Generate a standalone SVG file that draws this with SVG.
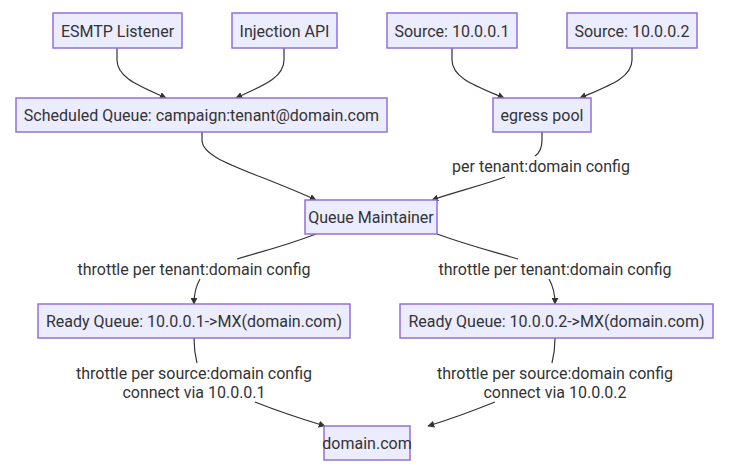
<svg xmlns="http://www.w3.org/2000/svg" width="734" height="471" viewBox="0 0 734 471">
<defs>
<style>
.node rect{fill:#ECECFF;stroke:#9370DB;stroke-width:1.5}
.node text,.lbl text{font-family:Roboto,"Liberation Sans",sans-serif;font-size:16px;fill:#333;text-anchor:middle;dominant-baseline:central}
.edges path{fill:none;stroke:#333;stroke-width:1.2;marker-end:url(#arr)}
</style>
<marker id="arr" viewBox="0 0 10 10" refX="9" refY="5" markerWidth="7" markerHeight="7" orient="auto-start-reverse" markerUnits="userSpaceOnUse">
<path d="M0,0 L10,5 L0,10 z" fill="#333"/>
</marker>
</defs>
<rect width="734" height="471" fill="#fff"/>
<g class="edges">
<path d="M117,48 L117,60 C117,78 140,86 166,98"/>
<path d="M284,48 L284,60 C284,78 262,86 236,98"/>
<path d="M452,48 L452,60 C452,78 476,86 504,98"/>
<path d="M632,48 L632,60 C632,78 608,86 580,98"/>
<path d="M202,132 L202,140 C202,160 250,170 316,200"/>
<path d="M542,132 L542,140 C542,150 538,154 535,156" style="marker-end:none"/>
<path d="M505,177 C480,186 455,192 432,200"/>
<path d="M316,234 C285,246 260,252 237,259" style="marker-end:none"/>
<path d="M200,279 C196,286 194,294 194,304"/>
<path d="M437,234 C470,246 495,252 518,259" style="marker-end:none"/>
<path d="M549,279 C553,286 555,294 555,304"/>
<path d="M194,338 C194,348 195,355 197,363" style="marker-end:none"/>
<path d="M255,402 C280,412 305,420 325,426"/>
<path d="M555,338 C555,348 554,355 552,363" style="marker-end:none"/>
<path d="M495,402 C470,412 448,420 428,426"/>
</g>
<g id="esmtp" class="node"><rect x="53" y="13" width="129" height="35"/><text x="117.5" y="31">ESMTP Listener</text></g>
<g id="inject" class="node"><rect x="232" y="13" width="105" height="35"/><text x="284.5" y="31">Injection API</text></g>
<g id="src1" class="node"><rect x="387" y="13" width="130" height="35"/><text x="452" y="31">Source: 10.0.0.1</text></g>
<g id="src2" class="node"><rect x="567" y="13" width="130" height="35"/><text x="632" y="31">Source: 10.0.0.2</text></g>
<g id="sched" class="node"><rect x="16" y="98" width="371" height="34"/><text x="201.5" y="115.5">Scheduled Queue: campaign:tenant@domain.com</text></g>
<g id="egress" class="node"><rect x="493" y="98" width="98" height="34"/><text x="542" y="115.5">egress pool</text></g>
<g id="qm" class="node"><rect x="305" y="200" width="132" height="34"/><text x="371" y="217.5">Queue Maintainer</text></g>
<g id="rq1" class="node"><rect x="38" y="304" width="312" height="34"/><text x="194" y="321.5">Ready Queue: 10.0.0.1-&gt;MX(domain.com)</text></g>
<g id="rq2" class="node"><rect x="400" y="304" width="313" height="34"/><text x="556.5" y="321.5">Ready Queue: 10.0.0.2-&gt;MX(domain.com)</text></g>
<g id="domain" class="node"><rect x="324" y="426" width="86" height="34"/><text x="367" y="443.5">domain.com</text></g>
<g class="lbl">
<text x="541" y="166">per tenant:domain config</text>
<text x="194" y="269.5">throttle per tenant:domain config</text>
<text x="555" y="269.5">throttle per tenant:domain config</text>
<text x="194" y="373">throttle per source:domain config</text>
<text x="194" y="392">connect via 10.0.0.1</text>
<text x="555" y="373">throttle per source:domain config</text>
<text x="555" y="392">connect via 10.0.0.2</text>
</g>
</svg>
